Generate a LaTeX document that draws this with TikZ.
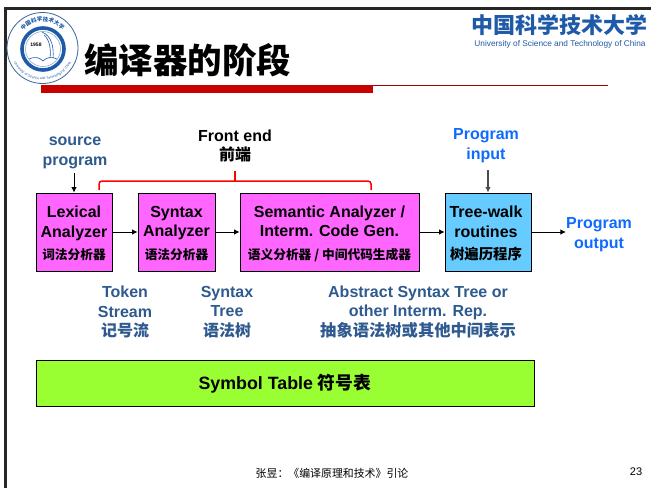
\documentclass[tikz,border=0pt]{standalone}
\usepackage{fontspec}
\setmainfont{Liberation Sans}
\newfontfamily\cjk{Noto Sans CJK SC}
\usetikzlibrary{arrows.meta,decorations.text}
\definecolor{magbox}{HTML}{FF66FF}
\definecolor{cyanbox}{HTML}{66CCFF}
\definecolor{limebox}{HTML}{99FF33}
\definecolor{navytxt}{HTML}{2F5A8F}
\definecolor{brighttxt}{HTML}{0F6BFF}
\definecolor{sealblue}{HTML}{1F5AA8}
\definecolor{barred}{HTML}{C80000}
\tikzset{
  x=1pt,y=-1pt,
  lab/.style={font=\fontsize{16}{19.8}\selectfont\bfseries,align=center,inner sep=0pt},
  blk/.style={draw=black,line width=0.9pt,inner sep=0pt,minimum height=78pt},
  blktxt/.style={inner sep=0pt,font=\fontsize{16}{19.6}\selectfont\bfseries,align=center},
  arr/.style={-{Latex[length=5.5pt,width=5.5pt]},line width=0.8pt,black},
}
\begin{document}
\begin{tikzpicture}
\useasboundingbox (0,0) rectangle (651,488);
\fill[white] (0,0) rectangle (651,488);
% slide frame
\draw[line width=3pt,black!85] (5.5,488) -- (5.5,8.5) -- (651,8.5);
% seal
\coordinate (seal) at (42.5,48);
\fill[white] (seal) circle (35.5);
\draw[sealblue!70!gray,line width=0.8pt] (seal) circle (35.5);
\draw[sealblue,line width=3.6pt] (43,49) circle (21);
\draw[sealblue!60,line width=0.5pt] (43,49) circle (17.5);
\node[inner sep=0pt,font=\fontsize{5}{5}\selectfont\bfseries] (sealyear) at (36,45) {1958};
\draw[sealblue,line width=0.6pt] (42,32) .. controls (52,36) and (54,48) .. (53,58);
\draw[sealblue,line width=0.6pt] (44,35) .. controls (50,40) and (51,50) .. (50,58);
\draw[sealblue,line width=0.6pt] (29,59) .. controls (36,56) and (40,58) .. (43,61) .. controls (46,58) and (50,56) .. (57,59);
\path[decorate,decoration={text along path,text align=center,text={|\fontsize{3.4}{4}\selectfont\color{sealblue}|University of Science and Technology of China}}]
  (11,42.4) arc[start angle=170,end angle=370,x radius=32,y radius=-32];
\path[decorate,decoration={text along path,text align=center,text={|\cjk\fontsize{5.5}{6}\selectfont\bfseries\color{sealblue}|中国科学技术大学}}]
  (16.15,50.8) arc[start angle=186,end angle=-6,x radius=26.5,y radius=-26.5];
% right logo
\node[inner sep=0pt,text=sealblue,font=\cjk\fontsize{22}{22}\selectfont\bfseries] (logocn) at (559,25.5) {中国科学技术大学};
\node[inner sep=0pt,text=sealblue,font=\fontsize{8.3}{9}\selectfont] (logoen) at (560,44) {University of Science and Technology of China};
% title
\node[inner sep=0pt,font=\cjk\fontsize{34.5}{35}\selectfont\bfseries] (title) at (187.5,60.5) {编译器的阶段};
\fill[barred] (41,85) rectangle (373,92.5);
\draw[barred!80!black,line width=0.8pt] (373,85.5) -- (608,85.5);
% boxes
\node[blk,fill=magbox,minimum width=76pt] (lex) at (74,232) {};
\node[blk,fill=magbox,minimum width=77pt] (syn) at (176.5,232) {};
\node[blk,fill=magbox,minimum width=179pt] (sem) at (329.5,232) {};
\node[blk,fill=cyanbox,minimum width=86pt] (tree) at (488,232) {};
\node[blk,fill=limebox,minimum width=498pt,minimum height=46pt] (symtab) at (285,383) {};
\node[blktxt] (lext) at (74,233.5) {Lexical\\Analyzer\\[3pt]{\cjk\fontsize{12.7}{14}\selectfont 词法分析器}};
\node[blktxt] (synt) at (176.5,233.5) {Syntax\\Analyzer\\[3pt]{\cjk\fontsize{12.7}{14}\selectfont 语法分析器}};
\node[blktxt] (semt) at (329.5,233.5) {Semantic Analyzer /\\Interm. Code Gen.\\[3pt]{\cjk\fontsize{12.7}{14}\selectfont 语义分析器 / 中间代码生成器}};
\node[blktxt] (treet) at (486,233.5) {Tree-walk\\routines\\[3pt]{\cjk\fontsize{14.4}{16}\selectfont 树遍历程序}};
\node[inner sep=0pt,font=\fontsize{17.8}{20}\selectfont\bfseries] (symt) at (285,384) {Symbol Table {\cjk 符号表}};
% labels
\node[lab,text=navytxt] (src) at (75,153) {source\\program};
\node[lab] (front) at (235,146) {Front end\\{\cjk 前端}};
\node[lab,text=brighttxt] (pin) at (486,146) {Program\\input};
\node[lab,text=brighttxt] (pout) at (599,235) {Program\\output};
\node[lab,text=navytxt] (tok) at (125,312) {Token\\Stream\\{\cjk 记号流}};
\node[lab,text=navytxt] (stree) at (227,312) {Syntax\\Tree\\{\cjk 语法树}};
\node[lab,text=navytxt] (ast) at (418,312) {Abstract Syntax Tree or\\other Interm. Rep.\\{\cjk\fontsize{16.3}{19.8}\selectfont 抽象语法树或其他中间表示}};
% connectors
\coordinate (srcend) at (lex.north |- 0,173);
\draw[arr] (srcend) -- (lex.north);
\draw[arr] (lex.east) -- (syn.west);
\draw[arr] (syn.east) -- (sem.west);
\draw[arr] (sem.east) -- (tree.west);
\coordinate (pinend) at (tree.north |- 0,170);
\draw[arr,black!70,line width=1.3pt] (pinend) -- (tree.north);
\draw[arr] (tree.east) -- (pout.west |- tree.east);
% front-end bracket
\coordinate (bl) at (99,190);
\coordinate (br) at (371,190);
\coordinate (bm) at (235,171);
\draw[red,line width=1.5pt,rounded corners=3pt] (bl) -- (99,181) -- (br |- 0,181) -- (br);
\draw[red,line width=1.5pt] (bm) -- (235,181);
% footer
\node[inner sep=0pt,font=\cjk\fontsize{10.9}{12}\selectfont] (foot) at (332,473) {张昱：《编译原理和技术》引论};
\node[inner sep=0pt,font=\fontsize{11}{12}\selectfont] (pageno) at (636,472) {23};
\end{tikzpicture}
\end{document}
